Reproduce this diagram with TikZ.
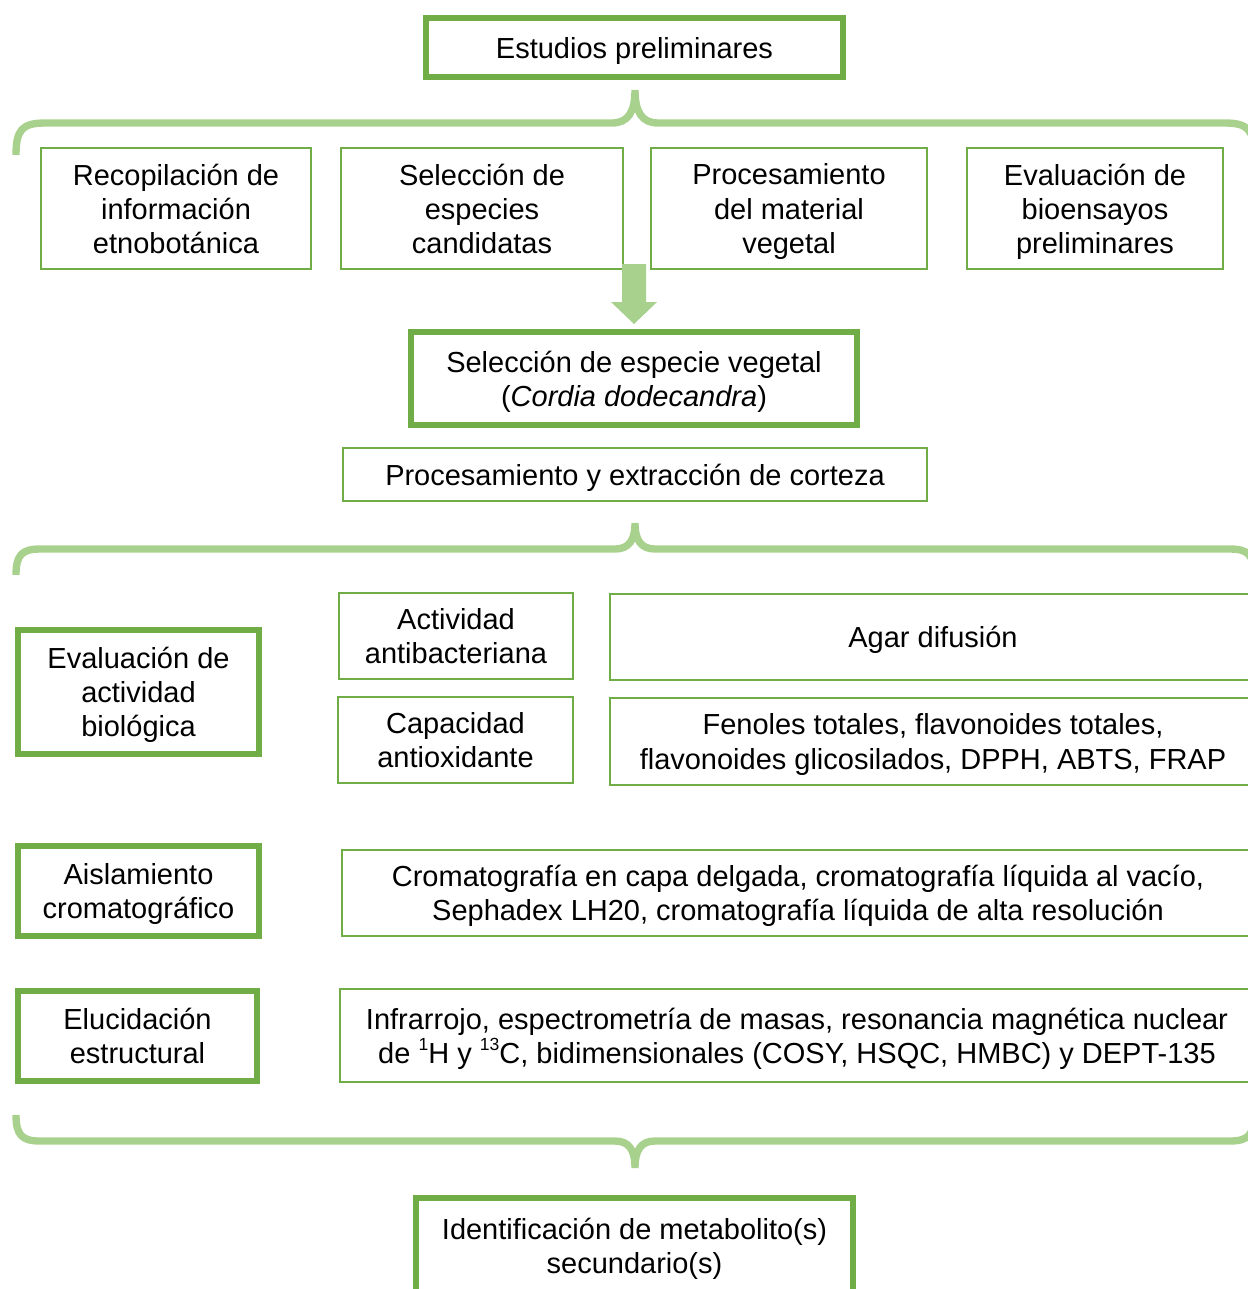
\documentclass[tikz,border=0pt]{standalone}
\usepackage{fontspec}
\setmainfont{Liberation Sans}
\usepackage{xcolor}
\usetikzlibrary{calc}
\definecolor{verde}{HTML}{70AD47}
\definecolor{verdeclaro}{HTML}{A9D18E}
\newcommand{\supind}[1]{\raisebox{7pt}{\fontsize{10}{10}\selectfont #1}}

\begin{document}
\begin{tikzpicture}[x=0.02cm,y=-0.02cm,
      every node/.style={align=center,inner sep=2pt,text depth=0pt,
        font=\fontsize{16.5}{19.4}\selectfont},
      caja/.style={rectangle,draw=verde,line width=1.1pt},
      cajafuerte/.style={rectangle,draw=verde,line width=3.4pt},
      llave/.style={draw=verdeclaro,line width=4.2pt}]
      \useasboundingbox (0,0) rectangle (1248,1289);
      \clip (0,0) rectangle (1248,1289);

      % primera etapa
      \node[cajafuerte,minimum width=8.34cm,minimum height=1.18cm] (est) at (634.5,47.5) {Estudios preliminares};
      \node[caja,minimum width=5.4cm,minimum height=2.42cm] (rec) at (176,208.5) {Recopilación de\\información\\etnobotánica};
      \node[caja,minimum width=5.64cm,minimum height=2.42cm] (sel) at (482,208.5) {Selección de\\especies\\candidatas};
      \node[caja,minimum width=5.52cm,minimum height=2.42cm] (pro) at (789,208.5) {Procesamiento\\del material\\vegetal};
      \node[caja,minimum width=5.12cm,minimum height=2.42cm] (eva) at (1095,208.5) {Evaluación de\\bioensayos\\preliminares};

      \node[cajafuerte,minimum width=8.92cm,minimum height=1.86cm] (esp) at (634,378.5) {Selección de especie vegetal\\(\textit{Cordia dodecandra})};
      \node[caja,minimum width=11.68cm,minimum height=1.06cm] (ext) at (635,474.5) {Procesamiento y extracción de corteza};

      % segunda etapa
      \node[cajafuerte,minimum width=4.82cm,minimum height=2.48cm] (bio) at (138.5,692) {Evaluación de\\actividad\\biológica};
      \node[caja,minimum width=4.68cm,minimum height=1.72cm] (antib) at (456,636) {Actividad\\antibacteriana};
      \node[caja,minimum width=4.7cm,minimum height=1.72cm] (antiox) at (455.5,740) {Capacidad\\antioxidante};
      \node[caja,minimum width=12.92cm,minimum height=1.72cm] (agar) at (933,637) {Agar difusión};
      \node[caja,minimum width=12.92cm,minimum height=1.74cm] (fen) at (933,741.5) {Fenoles totales, flavonoides totales,\\flavonoides glicosilados, DPPH, ABTS, FRAP};

      \node[cajafuerte,minimum width=4.82cm,minimum height=1.8cm] (ais) at (138.5,891) {Aislamiento\\cromatográfico};
      \node[caja,minimum width=18.24cm,minimum height=1.72cm] (crom) at (798,893) {Cromatografía en capa delgada, cromatografía líquida al vacío,\\Sephadex LH20, cromatografía líquida de alta resolución};

      \node[cajafuerte,minimum width=4.78cm,minimum height=1.8cm] (elu) at (137.5,1036) {Elucidación\\estructural};
      \node[caja,minimum width=18.28cm,minimum height=1.86cm] (infra) at (797,1035.5) {Infrarrojo, espectrometría de masas, resonancia magnética nuclear\\de \supind{1}H y \supind{13}C, bidimensionales (COSY, HSQC, HMBC) y DEPT-135};

      \node[cajafuerte,minimum width=8.74cm,minimum height=1.92cm] (ident) at (634.5,1246) {Identificación de metabolito(s)\\secundario(s)};

      % flecha
      \fill[verdeclaro] ($(esp.north)+(0,-5)$) -- ++(-23,-22) -- ++(11,0) -- ++(0,-38)
        -- ++(24,0) -- ++(0,38) -- ++(11,0) -- cycle;

      % llaves
      \draw[llave] (16,155) .. controls (16,130) and (22,123) .. (45,123) -- (612,123)
        .. controls (628,123) and (635,112) .. (635,90) .. controls (635,112) and (642,123) .. (658,123)
        -- (1225,123) .. controls (1248,123) and (1254,130) .. (1254,155);
      \draw[llave] (16,575) .. controls (16,555) and (22,549) .. (40,549) -- (615,549)
        .. controls (629,549) and (635,540) .. (635,523) .. controls (635,540) and (641,549) .. (655,549)
        -- (1230,549) .. controls (1248,549) and (1254,555) .. (1254,575);
      \draw[llave] (16,1115) .. controls (16,1135) and (22,1141) .. (40,1141) -- (615,1141)
        .. controls (629,1141) and (635,1150) .. (635,1168) .. controls (635,1150) and (641,1141) .. (655,1141)
        -- (1230,1141) .. controls (1248,1141) and (1254,1135) .. (1254,1115);
\end{tikzpicture}
\end{document}
